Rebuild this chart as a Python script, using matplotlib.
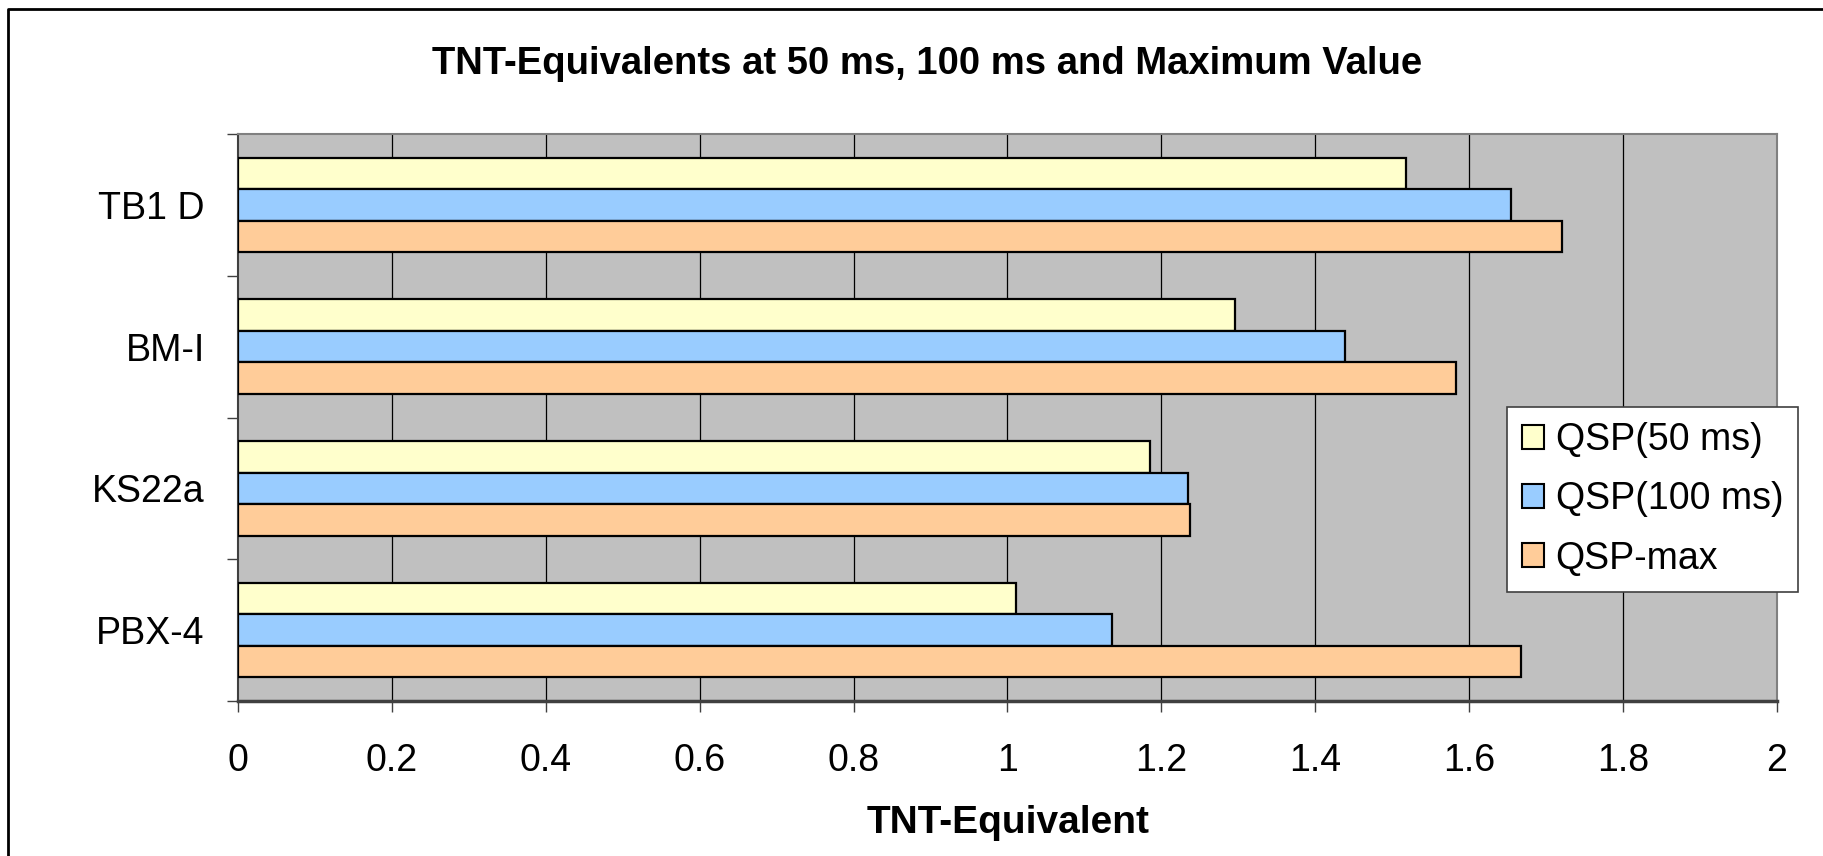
import numpy as np
import matplotlib
matplotlib.use('Agg')
import matplotlib.pyplot as plt
from matplotlib.lines import Line2D

plt.rcParams['font.family'] = ['Liberation Sans', 'DejaVu Sans']

# data (bottom to top, like Excel)
categories = ['PBX-4', 'KS22a', 'BM-I', 'TB1 D']
qsp_50 = [1.011, 1.185, 1.296, 1.518]
qsp_100 = [1.136, 1.234, 1.438, 1.654]
qsp_max = [1.667, 1.237, 1.583, 1.720]
series_names = ['QSP(50 ms)', 'QSP(100 ms)', 'QSP-max']
colors = ['#FFFFCC', '#99CCFF', '#FFCC99']
x_ticks = [0, 0.2, 0.4, 0.6, 0.8, 1, 1.2, 1.4, 1.6, 1.8, 2]
x_ticklabels = ['0', '0.2', '0.4', '0.6', '0.8', '1', '1.2', '1.4', '1.6', '1.8', '2']

fig = plt.figure(figsize=(18.24, 8.56), dpi=100)
ax = fig.add_axes([238 / 1824, 1 - 701 / 856, (1777 - 238) / 1824, (701 - 134) / 856])
ax.set_facecolor('#C0C0C0')

y = np.arange(len(categories))
h = 0.222
ax.barh(y + h, qsp_50, height=h, color=colors[0], edgecolor='black', linewidth=1.6, label=series_names[0], zorder=3)
ax.barh(y, qsp_100, height=h, color=colors[1], edgecolor='black', linewidth=1.6, label=series_names[1], zorder=3)
ax.barh(y - h, qsp_max, height=h, color=colors[2], edgecolor='black', linewidth=1.6, label=series_names[2], zorder=3)

ax.set_xlim(0, 2)
ax.set_ylim(-0.5, len(categories) - 0.5)
ax.set_xticks(x_ticks)
ax.set_xticklabels(x_ticklabels, fontsize=27)
ax.set_yticks(y)
ax.set_yticklabels(categories, fontsize=27)
ax.set_yticks(np.arange(-0.5, len(categories), 1), minor=True)
ax.tick_params(axis='y', which='major', length=0, pad=24)
ax.tick_params(axis='y', which='minor', length=8, width=1, direction='out', color='#404040')
ax.tick_params(axis='x', length=8, width=1, direction='out', pad=22, color='#404040')

for xv in x_ticks[1:-1]:
    ax.axvline(xv, color='black', linewidth=0.9, zorder=1)

for s in ['top', 'right']:
    ax.spines[s].set_color('#808080')
    ax.spines[s].set_linewidth(1.5)
ax.spines['left'].set_color('#404040')
ax.spines['left'].set_linewidth(1.5)
ax.spines['bottom'].set_color('#404040')
ax.spines['bottom'].set_linewidth(2.5)

fig.text(927 / 1824, 1 - 64 / 856, 'TNT-Equivalents at 50 ms, 100 ms and Maximum Value',
         ha='center', va='center', fontsize=27.5, fontweight='bold')
fig.text(1008 / 1824, 1 - 823 / 856, 'TNT-Equivalent', ha='center', va='center',
         fontsize=28, fontweight='bold')

leg = ax.legend(loc='upper left', bbox_to_anchor=(1507 / 1824, 1 - 407 / 856),
                bbox_transform=fig.transFigure, fontsize=27, frameon=True, fancybox=False,
                framealpha=1, handlelength=0.6, handleheight=0.6, handletextpad=0.3,
                labelspacing=0.62, borderpad=0.4, borderaxespad=0)
leg.get_frame().set_facecolor('white')
leg.get_frame().set_edgecolor('#404040')
leg.get_frame().set_linewidth(1.2)
for p in leg.get_patches():
    p.set_linewidth(1.5)

# outer chart border (left and top only)
border = Line2D([8 / 1824, 8 / 1824, 1.01], [-0.1, 1 - 9 / 856, 1 - 9 / 856],
                transform=fig.transFigure, color='black', linewidth=2)
fig.lines.append(border)

plt.savefig('out.png', dpi=100)
